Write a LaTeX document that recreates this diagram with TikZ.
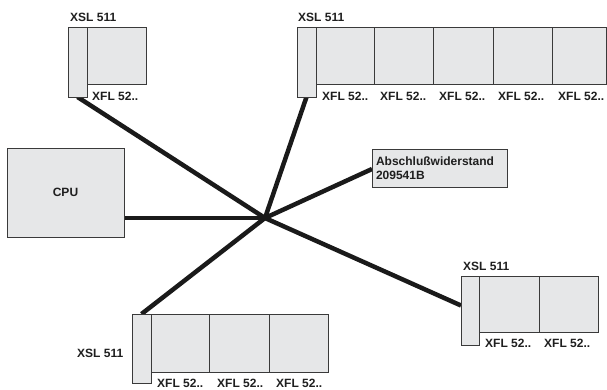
\documentclass[tikz,border=0pt]{standalone}
\usepackage{fontspec}
\setmainfont{Liberation Sans}
\usetikzlibrary{backgrounds}
\definecolor{boxfill}{HTML}{E6E7E8}
\definecolor{boxline}{HTML}{3A3A3A}
\definecolor{busc}{HTML}{1A1A1A}
\begin{document}
\begin{tikzpicture}[x=1pt,y=-1pt,
  mod/.style={draw=boxline, fill=boxfill, line width=0.9pt, inner sep=0pt, outer sep=0pt, anchor=north west},
  lbl/.style={font=\fontsize{12}{14}\selectfont\bfseries, inner sep=0pt, anchor=base west, text=black!88},
  bus/.style={draw=busc, line width=4.5pt}]
\useasboundingbox (0,0) rectangle (607,389);

\coordinate (hub) at (265,218);

% top-left group
\node[mod, minimum width=59pt, minimum height=57pt] (tlf1) at (87,27) {};
\node[mod, minimum width=19pt, minimum height=70pt] (tlx) at (68,27) {};

% top-right group
\node[mod, minimum width=58pt, minimum height=57pt] (trf1) at (316,27) {};
\node[mod, minimum width=59pt, minimum height=57pt] (trf2) at (374,27) {};
\node[mod, minimum width=60pt, minimum height=57pt] (trf3) at (433,27) {};
\node[mod, minimum width=59pt, minimum height=57pt] (trf4) at (493,27) {};
\node[mod, minimum width=54pt, minimum height=57pt] (trf5) at (552,27) {};
\node[mod, minimum width=19pt, minimum height=70pt] (trx) at (297,27) {};

% bottom-right group
\node[mod, minimum width=60pt, minimum height=56pt] (brf1) at (479,276) {};
\node[mod, minimum width=59pt, minimum height=56pt] (brf2) at (539,276) {};
\node[mod, minimum width=18pt, minimum height=69pt] (brx) at (461,276) {};

% bottom-left group
\node[mod, minimum width=58pt, minimum height=58pt] (blf1) at (151,314) {};
\node[mod, minimum width=60pt, minimum height=58pt] (blf2) at (209,314) {};
\node[mod, minimum width=59pt, minimum height=58pt] (blf3) at (269,314) {};
\node[mod, minimum width=19pt, minimum height=69pt] (blx) at (132,314) {};

% CPU
\node[mod, minimum width=117pt, minimum height=89pt] (cpu) at (7,148) {};
\node[lbl, anchor=center] (cpul) at (cpu.center) {CPU};

% terminator
\node[mod, minimum width=135pt, minimum height=38pt, text width=127pt, align=left, inner xsep=4pt,
      font=\fontsize{12}{14}\selectfont\bfseries, text=black!88] (abs) at (372,149)
      {Abschlußwiderstand\\209541B};

% bus lines
\begin{scope}[on background layer]
\draw[bus] (hub) -- (tlx.south);
\draw[bus] (hub) -- (trx.south);
\draw[bus] (hub) -- (hub -| cpu.east);
\draw[bus] (hub) -- ([yshift=-1pt]abs.west);
\draw[bus] (hub) -- ([yshift=5pt]brx.west);
\draw[bus] (hub) -- (blx.north);
\end{scope}

% labels
\node[lbl] (tlxl) at (70,21) {XSL 511};
\node[lbl] (tlfl1) at (92,100) {XFL 52..};

\node[lbl] (trxl) at (298,21) {XSL 511};
\node[lbl] (trfl1) at (322,100) {XFL 52..};
\node[lbl] (trfl2) at (380,100) {XFL 52..};
\node[lbl] (trfl3) at (439,100) {XFL 52..};
\node[lbl] (trfl4) at (498,100) {XFL 52..};
\node[lbl] (trfl5) at (558,100) {XFL 52..};

\node[lbl] (brxl) at (463,270) {XSL 511};
\node[lbl] (brfl1) at (485,347) {XFL 52..};
\node[lbl] (brfl2) at (544,347) {XFL 52..};

\node[lbl] (blxl) at (77,357) {XSL 511};
\node[lbl] (blfl1) at (157,387) {XFL 52..};
\node[lbl] (blfl2) at (217,387) {XFL 52..};
\node[lbl] (blfl3) at (276,387) {XFL 52..};
\end{tikzpicture}
\end{document}
